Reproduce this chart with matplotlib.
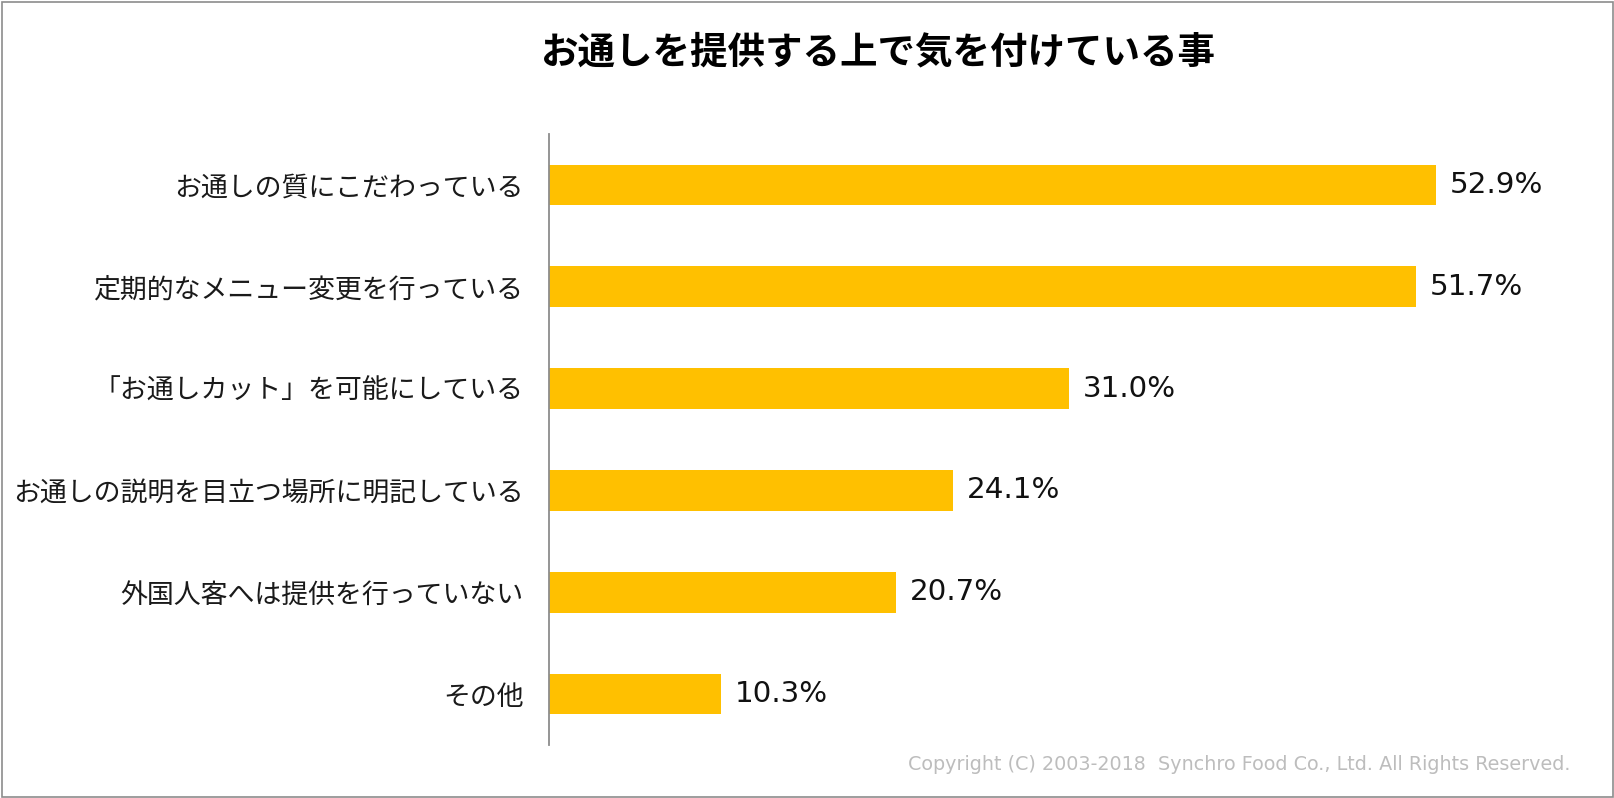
import matplotlib
matplotlib.use("Agg")
import matplotlib.pyplot as plt
from matplotlib.patches import Rectangle

plt.rcParams['font.family'] = ['Noto Sans CJK JP', 'DejaVu Sans']

categories = [
    "お通しの質にこだわっている",
    "定期的なメニュー変更を行っている",
    "「お通しカット」を可能にしている",
    "お通しの説明を目立つ場所に明記している",
    "外国人客へは提供を行っていない",
    "その他",
]
values = [52.9, 51.7, 31.0, 24.1, 20.7, 10.3]
value_labels = ["52.9%", "51.7%", "31.0%", "24.1%", "20.7%", "10.3%"]
title = "お通しを提供する上で気を付けている事"
copyright_text = "Copyright (C) 2003-2018  Synchro Food Co., Ltd. All Rights Reserved."

W, H = 1614, 798
fig = plt.figure(figsize=(W / 100, H / 100), dpi=100)

# outer frame
fig.patches.append(Rectangle((1.5 / W, 1.5 / H), (W - 3) / W, (H - 3) / H,
                             transform=fig.transFigure, fill=False,
                             edgecolor="#8c8c8c", linewidth=1.2))

ax_left, ax_right = 548.5, 1555.0
ax_top, ax_bottom = 134.0, 745.0
ax = fig.add_axes([ax_left / W, 1 - ax_bottom / H,
                   (ax_right - ax_left) / W, (ax_bottom - ax_top) / H])

ypos = list(range(len(categories)))
ax.barh(ypos, values, height=0.40, color="#FFC000", zorder=2)
ax.set_xlim(0, 60)
ax.set_ylim(len(categories) - 0.5, -0.5)
ax.set_yticks(ypos)
ax.set_yticklabels(categories, fontsize=19.4, color="#1a1a1a")
ax.tick_params(axis="y", length=0, pad=18)
ax.set_xticks([])
for s in ["top", "right", "bottom"]:
    ax.spines[s].set_visible(False)
ax.spines["left"].set_color("#8c8c8c")
ax.spines["left"].set_linewidth(1.3)

for y, v, lab in zip(ypos, values, value_labels):
    ax.annotate(lab, xy=(v, y), xytext=(10, 0), textcoords="offset points",
                va="center", ha="left", fontsize=21.2, color="#111111",
                family="DejaVu Sans")

fig.text(878 / W, 1 - 52 / H, title, ha="center", va="center",
         fontsize=27, fontweight="bold", color="black")
fig.text(1570 / W, 1 - 764 / H, copyright_text, ha="right", va="center",
         fontsize=13.8, color="#bdbdbd", family="DejaVu Sans")

fig.savefig("out.png", dpi=100)
